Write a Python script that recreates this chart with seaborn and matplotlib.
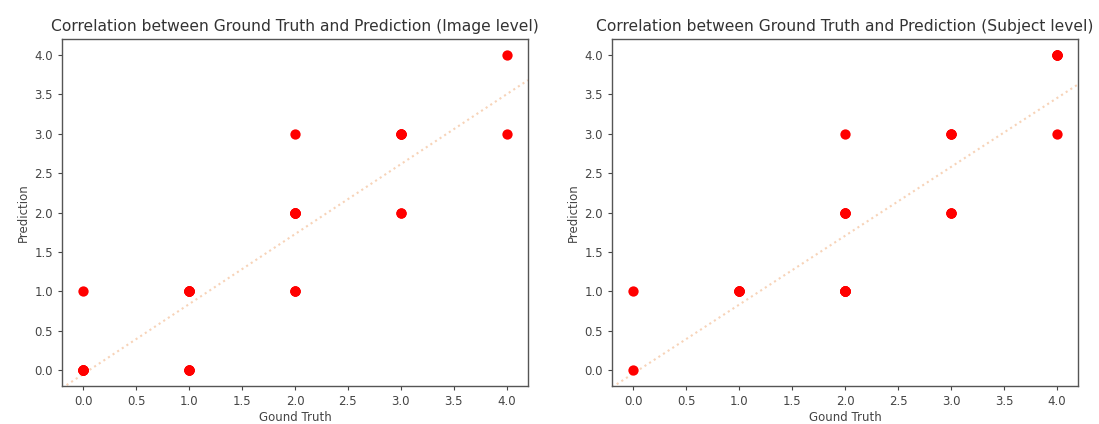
import numpy as np
import pandas as pd
import seaborn as sns
import matplotlib
matplotlib.use("Agg")
import matplotlib.pyplot as plt

# distinct (ground truth, prediction) pairs and how often each one occurs
img_truth = [0, 0, 1, 1, 2, 2, 2, 3, 3, 4, 4]
img_pred = [0, 1, 0, 1, 1, 2, 3, 2, 3, 3, 4]
img_count = [6, 1, 4, 6, 3, 6, 1, 2, 4, 1, 1]

subj_truth = [0, 0, 1, 2, 2, 2, 3, 3, 4, 4]
subj_pred = [0, 1, 1, 1, 2, 3, 2, 3, 3, 4]
subj_count = [1, 1, 5, 8, 4, 1, 3, 3, 1, 4]

titles = ["Correlation between Ground Truth and Prediction (Image level)",
          "Correlation between Ground Truth and Prediction (Subject level)"]


def expand(truth, pred, count):
    df = pd.DataFrame({"truth": truth, "pred": pred, "n": count})
    return df.loc[df.index.repeat(df["n"])].reset_index(drop=True)


sns.set_style("ticks")
plt.rcParams["font.family"] = ["DejaVu Sans"]

fig = plt.figure(figsize=(10.99, 4.24), dpi=100)
ax1 = fig.add_axes([0.0564, 0.0896, 0.424, 0.818])
ax2 = fig.add_axes([0.557, 0.0896, 0.424, 0.818])

datasets = [expand(img_truth, img_pred, img_count),
            expand(subj_truth, subj_pred, subj_count)]

for ax, df, title in zip([ax1, ax2], datasets, titles):
    sns.scatterplot(data=df, x="truth", y="pred", color="red", s=55,
                    edgecolor="red", linewidth=0, ax=ax, zorder=3)
    sns.regplot(data=df, x="truth", y="pred", scatter=False, ax=ax,
                truncate=False, ci=None,
                line_kws={"color": "#f7d3b8", "linestyle": ":", "linewidth": 1.5})
    ax.set_xlim(-0.2, 4.2)
    ax.set_ylim(-0.2, 4.2)
    ax.set_xticks(np.arange(0, 4.01, 0.5))
    ax.set_yticks(np.arange(0, 4.01, 0.5))
    ax.set_title(title, fontsize=11.2, color="#333333")
    ax.set_xlabel("Gound Truth", fontsize=8.5, color="#444444", labelpad=2)
    ax.set_ylabel("Prediction", fontsize=8.5, color="#444444", labelpad=3)
    ax.tick_params(labelsize=8.5, colors="#444444", length=3)
    for sp in ax.spines.values():
        sp.set_visible(True)
        sp.set_color("#555555")
        sp.set_linewidth(1.0)

fig.savefig("out.png", dpi=100)
